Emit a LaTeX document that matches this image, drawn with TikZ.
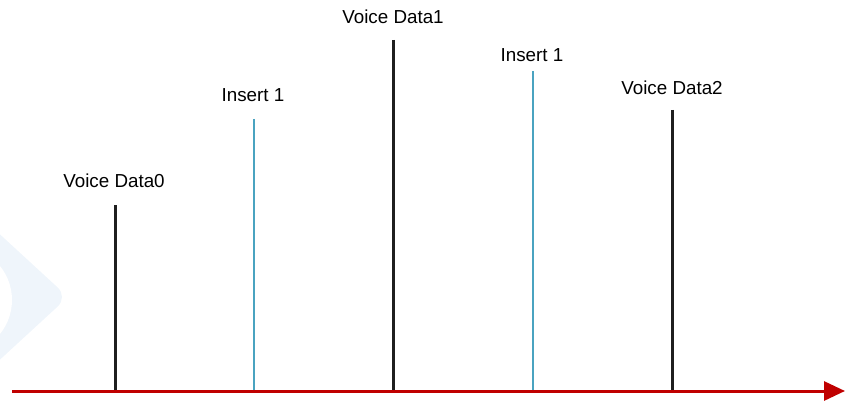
\documentclass[tikz,border=0pt]{standalone}
\usepackage{fontspec}
\setmainfont{Liberation Sans}
\usetikzlibrary{arrows.meta}
\definecolor{AxisRed}{HTML}{C00000}
\definecolor{InsertTeal}{HTML}{4AA3C0}
\definecolor{MarkFaint}{HTML}{EFF5FB}
\begin{document}
\begin{tikzpicture}[
    x=1pt,y=-1pt,
    label/.style={font=\fontsize{18.8}{22}\selectfont,anchor=base,inner sep=0pt},
    voiceline/.style={line width=3pt,draw=black!88},
    insertline/.style={line width=2pt,draw=InsertTeal},
    axisline/.style={line width=3pt,draw=AxisRed,-{Triangle[length=21pt,width=19pt]}}
  ]
    \useasboundingbox (0,0) rectangle (845,406);
    % faint mark on the left
    \begin{scope}
      \clip (0,0) rectangle (845,406);
      \fill[MarkFaint,rounded corners=14pt] (-70,170) -- (68,297) -- (-70,424) -- cycle;
      \fill[white] (-42,300) circle (54);
    \end{scope}

    \coordinate (start) at (12,391);
    \coordinate (end) at (845,391);
    \coordinate (b0) at (115,391);
    \coordinate (b1) at (254,391);
    \coordinate (b2) at (393,391);
    \coordinate (b3) at (533,391);
    \coordinate (b4) at (672,391);
    \coordinate (t0) at (115,205);
    \coordinate (t1) at (254,119);
    \coordinate (t2) at (393,40);
    \coordinate (t3) at (533,71);
    \coordinate (t4) at (672,110);

    \node[label] (voice0) at (114,187) {Voice Data0};
    \node[label] (insertA) at (253,102) {Insert 1};
    \node[label] (voice1) at (393,24) {Voice Data1};
    \node[label] (insertB) at (532,62) {Insert 1};
    \node[label] (voice2) at (672,95) {Voice Data2};

    \draw[voiceline] (t0) -- (b0);
    \draw[insertline] (t1) -- (b1);
    \draw[voiceline] (t2) -- (b2);
    \draw[insertline] (t3) -- (b3);
    \draw[voiceline] (t4) -- (b4);
    \draw[axisline] (start) -- (end);
  \end{tikzpicture}
\end{document}
